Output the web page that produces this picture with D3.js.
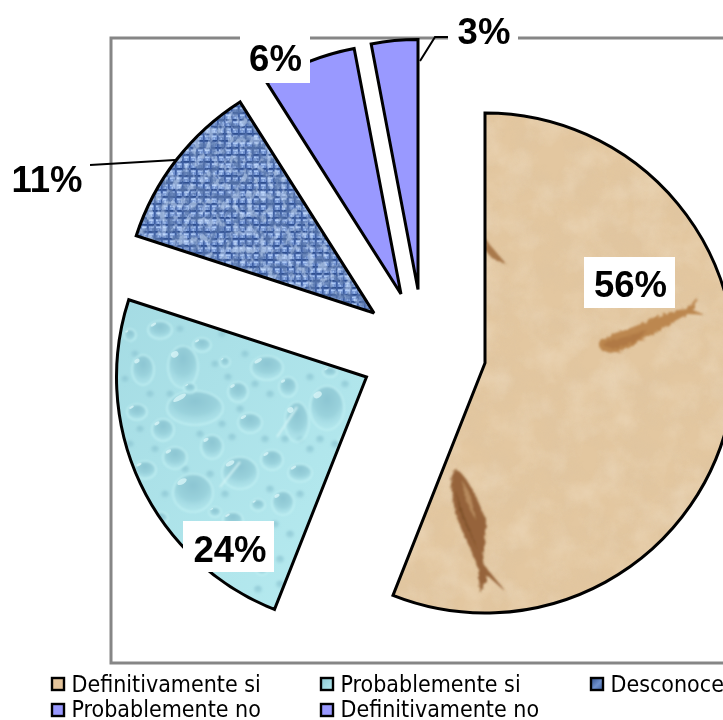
<!DOCTYPE html>
<html><head><meta charset="utf-8">
<script src="https://cdn.jsdelivr.net/npm/d3@7"></script>
<style>html,body{margin:0;padding:0;background:#fff;overflow:hidden}svg{display:block}</style>
</head><body><svg id="c" width="723" height="720"></svg>
<script>
// ---- data ----
const categories = ["Definitivamente si","Probablemente si","Desconoce","Probablemente no","Definitivamente no"];
const values = [56,24,11,6,3];
const valueLabels = ["56%","24%","11%","6%","3%"];
// ---- layout (exploded slice apex points, label boxes, legend) ----
const apexX = [485,366.5,374,401,418];
const apexY = [363,377,313,294,289.5];
const pieRadius = 250;
const labelBox = [[584,257,91,51],[183,521,91,51],[2,155,88,51],[240,36,70,47],[448,6,70,52]];
const labelTextX = [630.5,230,47,275.5,484];
const labelBaseY = [297,562,192,71,44];
const legendX = [51,320,590,51,320];
const legendY = [677,677,677,703,703];
const legendBase = [692,692,692,716.5,716.5];
const legendFill = ["#E3C49B","url(#water)","url(#denimLeg)","#9999FF","#9999FF"];
const leaders = [[[90,165],[175,160]],[[420,61],[435,37],[448,37]]];
// texture decoration (not data): droplets in the "water" picture fill
const bigDrops = [[195,408,28,17],[183,367,15,21],[193,493,20,19],[267,368,16,12],[327,408,17,22],[297,422,12,20],[240,473,18,16],[212,447,11,12],[175,458,12,11],[163,430,11,11],[143,370,11,15],[250,423,12,10],[238,392,10,10],[288,387,9,10],[300,473,12,9],[272,460,11,10],[283,503,11,12],[145,470,11,9],[137,412,10,8],[160,330,12,9],[202,345,9,7],[233,520,10,8],[330,372,7,5],[258,505,7,6],[190,388,6,5],[225,362,5,5],[160,518,8,6],[215,512,6,5],[262,570,6,5],[305,345,6,5],[130,335,6,6],[345,440,6,5]];
const smallDrops = [[128,340],[135,355],[150,395],[170,395],[180,330],[215,365],[228,378],[245,355],[255,385],[270,395],[310,378],[345,385],[320,440],[310,450],[335,445],[285,440],[265,440],[232,438],[222,425],[200,435],[185,470],[155,450],[130,445],[165,495],[210,475],[225,495],[270,490],[300,495],[245,530],[275,525],[290,535],[265,545],[280,560],[280,585],[258,590],[235,545],[195,530],[140,430],[125,380],[300,440],[222,335],[185,350],[240,410]];
const streaks = [[297,407,277,437],[240,462,220,487]];

const svg = d3.select("#c");
const defs = svg.append("defs");

// --- picture fills ---
const gg = defs.append("radialGradient").attr("id","drop").attr("cx",.5).attr("cy",.3).attr("r",.72);
gg.append("stop").attr("offset",0).attr("stop-color","#8CC5D2");
gg.append("stop").attr("offset",.55).attr("stop-color","#9AD2DC");
gg.append("stop").attr("offset",1).attr("stop-color","#B4E8EE").attr("stop-opacity",.25);
const wb = defs.append("linearGradient").attr("id","waterBase").attr("x1",0).attr("y1",0).attr("x2",1).attr("y2",1);
wb.append("stop").attr("offset",0).attr("stop-color","#A4DBE3");
wb.append("stop").attr("offset",1).attr("stop-color","#B8ECF1");

const stone = defs.append("filter").attr("id","stone").attr("x",0).attr("y",0).attr("width",1).attr("height",1);
stone.append("feTurbulence").attr("type","fractalNoise").attr("baseFrequency",.035).attr("numOctaves",5).attr("seed",7);
stone.append("feColorMatrix").attr("values","0 0 0 0 .70  0 0 0 0 .54  0 0 0 0 .36  1.6 0 0 0 -.62");
const stoneL = defs.append("filter").attr("id","stoneL").attr("x",0).attr("y",0).attr("width",1).attr("height",1);
stoneL.append("feTurbulence").attr("type","fractalNoise").attr("baseFrequency",.03).attr("numOctaves",5).attr("seed",19);
stoneL.append("feColorMatrix").attr("values","0 0 0 0 .93  0 0 0 0 .84  0 0 0 0 .70  1.6 0 0 0 -.62");
const soft = defs.append("filter").attr("id","rough").attr("x","-10%").attr("y","-10%").attr("width","120%").attr("height","120%");
soft.append("feTurbulence").attr("type","fractalNoise").attr("baseFrequency",.25).attr("numOctaves",2).attr("seed",5).attr("result","n");
soft.append("feDisplacementMap").attr("in","SourceGraphic").attr("in2","n").attr("scale",4).attr("result","d");
soft.append("feGaussianBlur").attr("in","d").attr("stdDeviation",1);
const blurDrop = defs.append("filter").attr("id","blurDrop");
blurDrop.append("feGaussianBlur").attr("stdDeviation",1);
const soft2 = defs.append("filter").attr("id","soft2");
soft2.append("feGaussianBlur").attr("stdDeviation",.6);
const weave = defs.append("filter").attr("id","weaveNoise").attr("x",0).attr("y",0).attr("width",1).attr("height",1);
weave.append("feTurbulence").attr("type","fractalNoise").attr("baseFrequency",".12 .14").attr("numOctaves",3).attr("seed",3);
weave.append("feColorMatrix").attr("values","0 0 0 0 .10  0 0 0 0 .18  0 0 0 0 .40  5 0 0 0 -2.2");
const weaveL = defs.append("filter").attr("id","weaveLight").attr("x",0).attr("y",0).attr("width",1).attr("height",1);
weaveL.append("feTurbulence").attr("type","fractalNoise").attr("baseFrequency",".15 .11").attr("numOctaves",3).attr("seed",11);
weaveL.append("feColorMatrix").attr("values","0 0 0 0 .66  0 0 0 0 .80  0 0 0 0 1  5 0 0 0 -2.4");

const p = defs.append("pattern").attr("id","denim").attr("width",7).attr("height",7).attr("patternUnits","userSpaceOnUse");
p.append("rect").attr("width",7).attr("height",7).attr("fill","#6E8FCF");
p.append("rect").attr("y",0).attr("width",7).attr("height",1.8).attr("fill","#2F4F90");
p.append("rect").attr("x",0).attr("width",1.6).attr("height",7).attr("fill","#3D5EA2");
p.append("rect").attr("x",2).attr("y",2.6).attr("width",4.4).attr("height",1.6).attr("fill","#A9C6F4");
p.append("rect").attr("x",3.4).attr("y",4.6).attr("width",1.6).attr("height",2).attr("fill","#9DBCEE");

const dl = defs.append("linearGradient").attr("id","denimLeg").attr("x1",0).attr("y1",0).attr("x2",1).attr("y2",1);
dl.append("stop").attr("offset",0).attr("stop-color","#2F4F8C");
dl.append("stop").attr("offset",.55).attr("stop-color","#6F90CC");
dl.append("stop").attr("offset",1).attr("stop-color","#3D5E9E");
const wl = defs.append("linearGradient").attr("id","water").attr("x1",0).attr("y1",0).attr("x2",1).attr("y2",1);
wl.append("stop").attr("offset",0).attr("stop-color","#8CC8D4");
wl.append("stop").attr("offset",1).attr("stop-color","#B6EAF0");

// --- pie geometry ---
const pie = d3.pie().sort(null).value(d=>d).startAngle(0).endAngle(2*Math.PI);
const arc = d3.arc().innerRadius(0).outerRadius(pieRadius);
const arcs = pie(values);
const tr = i=>`translate(${apexX[i]},${apexY[i]})`;

arcs.forEach((a,i)=>{
  defs.append("clipPath").attr("id","clip"+i).append("path").attr("d",arc(a)).attr("transform",tr(i));
});

// plot frame
svg.append("rect").attr("x",111).attr("y",38).attr("width",700).attr("height",625)
  .attr("fill","none").attr("stroke","#868686").attr("stroke-width",3);

// slice 0: fossil stone
const g0 = svg.append("g").attr("clip-path","url(#clip0)");
const R0 = s=>s.attr("x",380).attr("y",105).attr("width",343).attr("height",510);
R0(g0.append("rect")).attr("fill","#E3C7A0");
R0(g0.append("rect")).attr("filter","url(#stone)").attr("opacity",.35);
R0(g0.append("rect")).attr("filter","url(#stoneL)").attr("opacity",.4);
const fish = g0.append("g").attr("filter","url(#rough)");
fish.append("path").attr("fill","#BC8750")
  .attr("d","M599,343C606,333 628,331 650,320C665,312 680,311 690,306L697,297L693,310L705,315L688,314C670,323 650,336 625,350C610,355 598,353 599,343Z");
fish.append("path").attr("fill","#A8703C").attr("opacity",.6)
  .attr("d","M603,345C612,338 630,338 648,328L640,338C628,346 612,352 603,345Z");
fish.append("path").attr("fill","#96643A")
  .attr("d","M457,470C466,475 476,495 486,520L485,545C483,555 482,560 484,565L506,592L488,576L480,593L478,567C470,545 454,520 453,497C450,485 450,473 457,470Z");
fish.append("path").attr("fill","#C49A6C").attr("opacity",.7)
  .attr("d","M462,480L470,494L476,520L472,514L465,497Z");
fish.append("path").attr("fill","#6F4420").attr("opacity",.6)
  .attr("d","M456,490L462,510L472,535L478,550L468,530L459,510Z");
fish.append("path").attr("fill","#A9794C")
  .attr("d","M485,238L490,245L507,265L492,258L485,250Z");

// slice 1: water drops
const g1 = svg.append("g").attr("clip-path","url(#clip1)");
g1.append("rect").attr("x",110).attr("y",295).attr("width",265).attr("height",320).attr("fill","url(#waterBase)");
const d1 = g1.append("g").attr("filter","url(#blurDrop)");
d1.selectAll("circle.s").data(smallDrops).join("circle").attr("cx",d=>d[0]).attr("cy",d=>d[1]).attr("r",4.5).attr("fill","url(#drop)").attr("opacity",.8);
d1.selectAll("ellipse.b").data(bigDrops).join("ellipse").attr("cx",d=>d[0]).attr("cy",d=>d[1]).attr("rx",d=>d[2]).attr("ry",d=>d[3])
  .attr("fill","url(#drop)").attr("stroke","#C6F2F5").attr("stroke-width",1.6).attr("stroke-opacity",.8);
d1.selectAll("line.st").data(streaks).join("line").attr("x1",d=>d[0]).attr("y1",d=>d[1]).attr("x2",d=>d[2]).attr("y2",d=>d[3])
  .attr("stroke","#D0F3F5").attr("stroke-width",2);
g1.selectAll("ellipse.h").data(bigDrops).join("ellipse")
  .attr("cx",d=>d[0]-d[2]*.55).attr("cy",d=>d[1]-d[3]*.6).attr("rx",d=>d[2]*.26).attr("ry",d=>d[3]*.14)
  .attr("fill","#D8F5F7").attr("opacity",.8)
  .attr("transform",d=>`rotate(-30,${d[0]-d[2]*.55},${d[1]-d[3]*.6})`);

// slice 2: denim
const g2 = svg.append("g").attr("clip-path","url(#clip2)");
const R2 = s=>s.attr("x",130).attr("y",95).attr("width",250).attr("height",225);
R2(g2.append("rect")).attr("fill","url(#denim)").attr("filter","url(#soft2)");
R2(g2.append("rect")).attr("filter","url(#weaveNoise)").attr("opacity",.75);
R2(g2.append("rect")).attr("filter","url(#weaveLight)").attr("opacity",.5);

// slice outlines (with flat fill for the two plain slices)
const sliceFill = ["none","none","none","#9999FF","#9999FF"];
svg.selectAll("path.slice").data(arcs).join("path").attr("class","slice")
  .attr("d",arc).attr("transform",(d,i)=>tr(i))
  .attr("fill",(d,i)=>sliceFill[i]).attr("stroke","#000").attr("stroke-width",3).attr("stroke-linejoin","miter").attr("stroke-miterlimit",2);

// leader lines
const line = d3.line();
svg.selectAll("path.leader").data(leaders).join("path").attr("class","leader")
  .attr("d",line).attr("fill","none").attr("stroke","#000").attr("stroke-width",2);

// data labels
const lab = svg.selectAll("g.lab").data(valueLabels).join("g").attr("class","lab");
lab.append("rect").attr("x",(d,i)=>labelBox[i][0]).attr("y",(d,i)=>labelBox[i][1])
  .attr("width",(d,i)=>labelBox[i][2]).attr("height",(d,i)=>labelBox[i][3]).attr("fill","#fff");
lab.append("text").text(d=>d).attr("x",(d,i)=>labelTextX[i]).attr("y",(d,i)=>labelBaseY[i])
  .attr("text-anchor","middle").attr("font-family","Liberation Sans").attr("font-weight","bold")
  .attr("font-size",36.5).attr("fill","#000");

// legend
const leg = svg.selectAll("g.leg").data(categories).join("g").attr("class","leg");
leg.append("rect").attr("x",(d,i)=>legendX[i]+1).attr("y",(d,i)=>legendY[i]+1).attr("width",12).attr("height",12)
  .attr("fill",(d,i)=>legendFill[i]).attr("stroke","#000").attr("stroke-width",2.4);
leg.append("text").text(d=>d).attr("x",(d,i)=>legendX[i]+20.5).attr("y",(d,i)=>legendBase[i])
  .attr("font-family","DejaVu Sans Condensed, DejaVu Sans").attr("font-size",23).attr("fill","#000");
</script></body></html>
